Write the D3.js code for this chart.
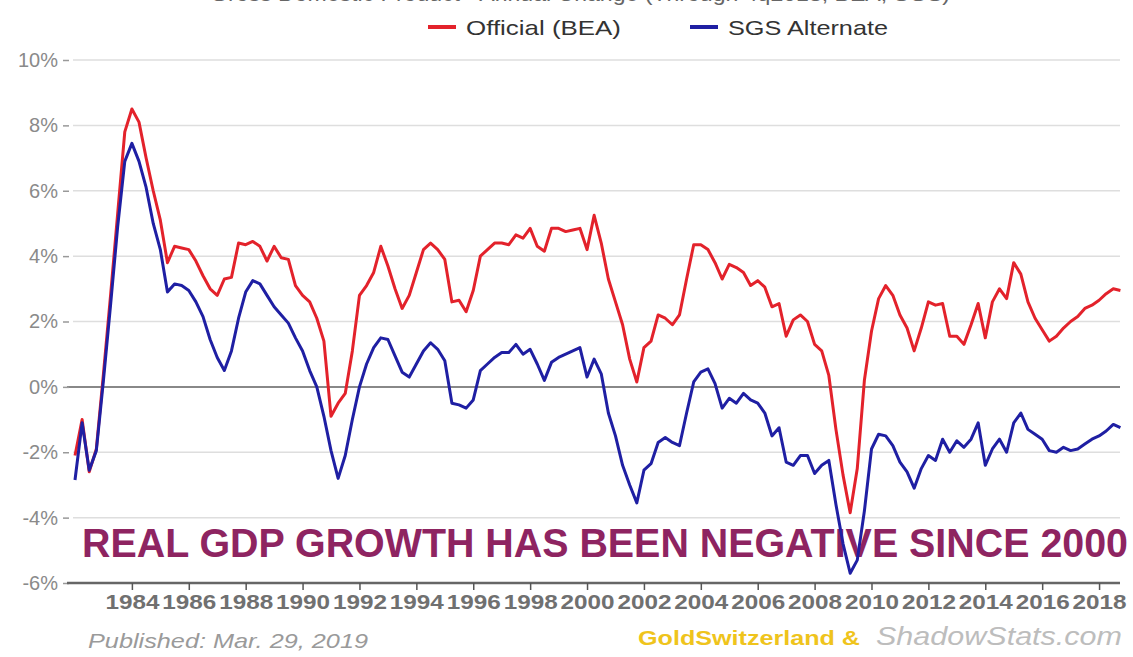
<!DOCTYPE html>
<html>
<head>
<meta charset="utf-8">
<script src="https://cdn.jsdelivr.net/npm/d3@7"></script>
<style>
  body { margin: 0; background: #fff; }
  svg { display: block; font-family: "Liberation Sans", Arial, sans-serif; }
</style>
</head>
<body>
<div id="chart"></div>
<script>
// quarterly year-over-year real GDP growth, 1982 Q1 .. 2018 Q4
var firstYear = 1982;
var official = [
  -2.1, -1.0, -2.6, -1.9,   0.4, 2.8, 5.3, 7.8,   8.5, 8.1, 7.0, 6.0,
  5.1, 3.8, 4.3, 4.25,   4.2, 3.85, 3.4, 3.0,   2.8, 3.3, 3.35, 4.4,
  4.35, 4.45, 4.3, 3.85,   4.3, 3.95, 3.9, 3.1,   2.8, 2.6, 2.1, 1.4,
  -0.9, -0.5, -0.2, 1.1,   2.8, 3.1, 3.5, 4.3,   3.7, 3.0, 2.4, 2.8,
  3.5, 4.2, 4.4, 4.2,   3.9, 2.6, 2.65, 2.3,   2.95, 4.0, 4.2, 4.4,
  4.4, 4.35, 4.65, 4.55,   4.85, 4.3, 4.15, 4.85,   4.85, 4.75, 4.8, 4.85,
  4.2, 5.25, 4.4, 3.3,   2.6, 1.9, 0.85, 0.15,   1.2, 1.4, 2.2, 2.1,
  1.9, 2.2, 3.3, 4.35,   4.35, 4.2, 3.8, 3.3,   3.75, 3.65, 3.5, 3.1,
  3.25, 3.05, 2.45, 2.55,   1.55, 2.05, 2.2, 2.0,   1.3, 1.1, 0.35, -1.3,
  -2.7, -3.85, -2.5, 0.2,   1.7, 2.7, 3.1, 2.8,   2.2, 1.8, 1.1, 1.8,
  2.6, 2.5, 2.55, 1.55,   1.55, 1.3, 1.9, 2.55,   1.5, 2.6, 3.0, 2.7,
  3.8, 3.45, 2.6, 2.1,   1.75, 1.4, 1.55, 1.8,   2.0, 2.15, 2.4, 2.5,
  2.65, 2.85, 3.0, 2.95
];
var sgsAlternate = [
  -2.85, -1.1, -2.55, -1.95,   0.2, 2.5, 4.9, 6.9,   7.45, 6.9, 6.1, 5.0,
  4.2, 2.9, 3.15, 3.1,   2.95, 2.6, 2.15, 1.45,   0.9, 0.5, 1.1, 2.1,
  2.9, 3.25, 3.15, 2.8,   2.45, 2.2, 1.95, 1.5,   1.1, 0.5, 0.0, -0.9,
  -1.95, -2.8, -2.1, -1.0,   0.0, 0.7, 1.2, 1.5,   1.45, 0.95, 0.45, 0.3,
  0.7, 1.1, 1.35, 1.15,   0.8, -0.5, -0.55, -0.65,   -0.4, 0.5, 0.7, 0.9,
  1.05, 1.05, 1.3, 1.0,   1.15, 0.7, 0.2, 0.75,   0.9, 1.0, 1.1, 1.2,
  0.3, 0.85, 0.4, -0.8,   -1.5, -2.4, -3.0, -3.55,   -2.55, -2.35, -1.7, -1.55,
  -1.7, -1.8, -0.8, 0.15,   0.45, 0.55, 0.1, -0.65,   -0.35, -0.5, -0.2, -0.4,
  -0.5, -0.8, -1.5, -1.25,   -2.3, -2.4, -2.1, -2.1,   -2.65, -2.4, -2.25, -3.6,
  -4.8, -5.7, -5.3, -3.8,   -1.9, -1.45, -1.5, -1.8,   -2.3, -2.6, -3.1, -2.5,
  -2.1, -2.25, -1.6, -2.0,   -1.65, -1.85, -1.6, -1.1,   -2.4, -1.9, -1.6, -2.0,
  -1.1, -0.8, -1.3, -1.45,   -1.6, -1.95, -2.0, -1.85,   -1.95, -1.9, -1.75, -1.6,
  -1.5, -1.35, -1.15, -1.25
];
var yTicks = [-6, -4, -2, 0, 2, 4, 6, 8, 10];
var xTicks = [1984, 1986, 1988, 1990, 1992, 1994, 1996, 1998, 2000, 2002, 2004, 2006, 2008, 2010, 2012, 2014, 2016, 2018];
var seriesNames = ["Official (BEA)", "SGS Alternate"];

var W = 1133, H = 657;
var svg = d3.select("#chart").append("svg").attr("width", W).attr("height", H);

var x = d3.scaleLinear().domain([1982, 2018.75]).range([75, 1120.4]);
var y = d3.scaleLinear().domain([-6, 10]).range([583, 60]);

// title, mostly cut off by the top edge as in the original
svg.append("text")
  .attr("x", 210).attr("y", 1)
  .attr("textLength", 740).attr("lengthAdjust", "spacingAndGlyphs")
  .style("font-size", "21px").style("fill", "#666")
  .text("Gross Domestic Product - Annual Change (Through 4q2018, BEA, SGS)");

// legend
var legendX = [428, 690];
var legendW = [155, 160];
var colors = ["#e3222b", "#1f1fa3"];
seriesNames.forEach(function (n, i) {
  svg.append("line")
    .attr("x1", legendX[i]).attr("x2", legendX[i] + 28)
    .attr("y1", 27).attr("y2", 27)
    .style("stroke", colors[i]).style("stroke-width", 4);
  svg.append("text")
    .attr("x", legendX[i] + 38).attr("y", 35)
    .attr("textLength", legendW[i]).attr("lengthAdjust", "spacingAndGlyphs")
    .style("font-size", "21px").style("fill", "#333")
    .text(n);
});

// grid
svg.selectAll(".grid")
  .data(yTicks.filter(function (d) { return d != 0 && d != -6; }))
  .enter().append("line")
  .attr("x1", 73).attr("x2", 1120)
  .attr("y1", function (d) { return y(d); })
  .attr("y2", function (d) { return y(d); })
  .style("stroke", "#dedede").style("stroke-width", 1.5);

svg.append("line")
  .attr("x1", 67).attr("x2", 1120)
  .attr("y1", y(0)).attr("y2", y(0))
  .style("stroke", "#888").style("stroke-width", 2);

// y axis labels
var yAxis = d3.axisLeft(y).tickValues(yTicks)
  .tickFormat(function (d) { return d + "%"; })
  .tickSize(6).tickPadding(5);
var gy = svg.append("g").attr("transform", "translate(69,0)").call(yAxis);
gy.select(".domain").remove();
gy.selectAll("line").style("stroke", "#999").style("stroke-width", 1.5);
gy.selectAll("text").style("font-size", "20px").style("fill", "#8a8a8a")
  .style("font-family", "Liberation Sans, Arial, sans-serif");

// x axis
var xAxis = d3.axisBottom(x).tickValues(xTicks).tickFormat(d3.format("d"))
  .tickSize(7).tickSizeOuter(0).tickPadding(4);
var gx = svg.append("g").attr("transform", "translate(0," + y(-6) + ")").call(xAxis);
gx.select(".domain").attr("d", "M67,0H1120").style("stroke", "#666").style("stroke-width", 2.5);
gx.selectAll("line").style("stroke", "#555").style("stroke-width", 1.5);
gx.selectAll("text").style("font-size", "21px").style("font-weight", "bold")
  .style("fill", "#707070").style("font-family", "Liberation Sans, Arial, sans-serif")
  .attr("textLength", 54).attr("lengthAdjust", "spacingAndGlyphs");

// annotation
svg.append("text")
  .attr("x", 82).attr("y", 557)
  .attr("textLength", 1046).attr("lengthAdjust", "spacingAndGlyphs")
  .style("font-size", "40px").style("font-weight", "bold").style("fill", "#8e2461")
  .text("REAL GDP GROWTH HAS BEEN NEGATIVE SINCE 2000");

// lines
var line = d3.line()
  .x(function (d, i) { return x(firstYear + i / 4); })
  .y(function (d) { return y(d); });

[official, sgsAlternate].forEach(function (s, i) {
  svg.append("path")
    .datum(s)
    .attr("d", line)
    .style("fill", "none")
    .style("stroke", colors[i])
    .style("stroke-width", 3)
    .style("stroke-linejoin", "round");
});

// footer
svg.append("text")
  .attr("x", 88).attr("y", 648)
  .attr("textLength", 280).attr("lengthAdjust", "spacingAndGlyphs")
  .style("font-size", "21px").style("font-style", "italic").style("fill", "#9a9a9a")
  .text("Published: Mar. 29, 2019");
svg.append("text")
  .attr("x", 638).attr("y", 645)
  .attr("textLength", 222).attr("lengthAdjust", "spacingAndGlyphs")
  .style("font-size", "20px").style("font-weight", "bold").style("fill", "#efc41c")
  .text("GoldSwitzerland &");
svg.append("text")
  .attr("x", 876).attr("y", 645)
  .attr("textLength", 246).attr("lengthAdjust", "spacingAndGlyphs")
  .style("font-size", "25px").style("font-style", "italic").style("fill", "#bdbdbd")
  .text("ShadowStats.com");
</script>
</body>
</html>
